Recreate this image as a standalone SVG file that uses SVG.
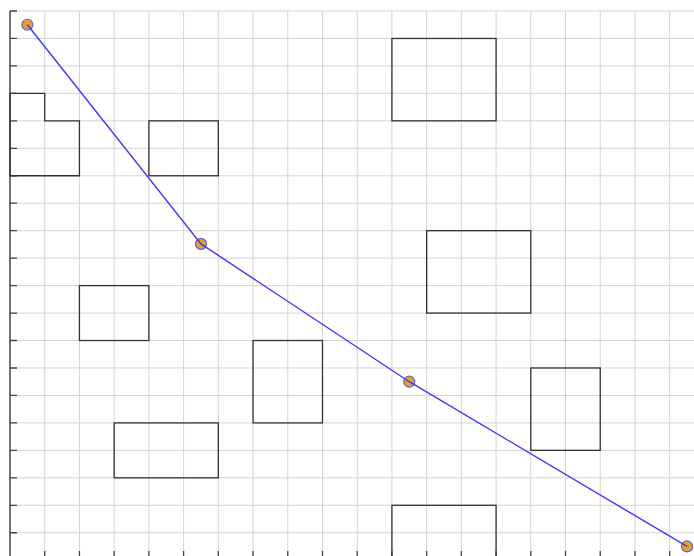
<svg xmlns="http://www.w3.org/2000/svg" width="694" height="556" viewBox="0 0 694 556">
<defs>
<style>
.grid line{stroke:#d4d4d4;stroke-width:1}
.axis{stroke:#444;stroke-width:1.5;fill:none}
.tick{stroke:#444;stroke-width:1.3}
.obs{fill:none;stroke:#333;stroke-width:1.3}
.route{fill:none;stroke:#3a3aff;stroke-width:1.4}
.pt{fill:#e8a21c;stroke:#5a5aff;stroke-width:1.2}
</style>
</defs>
<rect width="694" height="556" fill="#fff"/>
<g class="grid" id="grid">
<line x1="10" y1="11" x2="694" y2="11"/>
<line x1="10" y1="38.46" x2="694" y2="38.46"/>
<line x1="10" y1="65.92" x2="694" y2="65.92"/>
<line x1="10" y1="93.38" x2="694" y2="93.38"/>
<line x1="10" y1="120.84" x2="694" y2="120.84"/>
<line x1="10" y1="148.3" x2="694" y2="148.3"/>
<line x1="10" y1="175.76" x2="694" y2="175.76"/>
<line x1="10" y1="203.22" x2="694" y2="203.22"/>
<line x1="10" y1="230.68" x2="694" y2="230.68"/>
<line x1="10" y1="258.14" x2="694" y2="258.14"/>
<line x1="10" y1="285.6" x2="694" y2="285.6"/>
<line x1="10" y1="313.06" x2="694" y2="313.06"/>
<line x1="10" y1="340.52" x2="694" y2="340.52"/>
<line x1="10" y1="367.98" x2="694" y2="367.98"/>
<line x1="10" y1="395.44" x2="694" y2="395.44"/>
<line x1="10" y1="422.9" x2="694" y2="422.9"/>
<line x1="10" y1="450.36" x2="694" y2="450.36"/>
<line x1="10" y1="477.82" x2="694" y2="477.82"/>
<line x1="10" y1="505.28" x2="694" y2="505.28"/>
<line x1="10" y1="532.74" x2="694" y2="532.74"/>
<line x1="44.72" y1="11" x2="44.72" y2="556"/>
<line x1="79.44" y1="11" x2="79.44" y2="556"/>
<line x1="114.16" y1="11" x2="114.16" y2="556"/>
<line x1="148.88" y1="11" x2="148.88" y2="556"/>
<line x1="183.6" y1="11" x2="183.6" y2="556"/>
<line x1="218.32" y1="11" x2="218.32" y2="556"/>
<line x1="253.04" y1="11" x2="253.04" y2="556"/>
<line x1="287.76" y1="11" x2="287.76" y2="556"/>
<line x1="322.48" y1="11" x2="322.48" y2="556"/>
<line x1="357.2" y1="11" x2="357.2" y2="556"/>
<line x1="391.92" y1="11" x2="391.92" y2="556"/>
<line x1="426.64" y1="11" x2="426.64" y2="556"/>
<line x1="461.36" y1="11" x2="461.36" y2="556"/>
<line x1="496.08" y1="11" x2="496.08" y2="556"/>
<line x1="530.8" y1="11" x2="530.8" y2="556"/>
<line x1="565.52" y1="11" x2="565.52" y2="556"/>
<line x1="600.24" y1="11" x2="600.24" y2="556"/>
<line x1="634.96" y1="11" x2="634.96" y2="556"/>
<line x1="669.68" y1="11" x2="669.68" y2="556"/>
</g>
<g id="axes">
<line class="axis" x1="10" y1="11" x2="10" y2="556"/>
<path class="tick" d="M10 11h7M10 38.46h7M10 65.92h7M10 93.38h7M10 120.84h7M10 148.3h7M10 175.76h7M10 203.22h7M10 230.68h7M10 258.14h7M10 285.6h7M10 313.06h7M10 340.52h7M10 367.98h7M10 395.44h7M10 422.9h7M10 450.36h7M10 477.82h7M10 505.28h7M10 532.74h7"/>
<path class="tick" d="M44.72 551v5M79.44 551v5M114.16 551v5M148.88 551v5M183.6 551v5M218.32 551v5M253.04 551v5M287.76 551v5M322.48 551v5M357.2 551v5M391.92 551v5M426.64 551v5M461.36 551v5M496.08 551v5M530.8 551v5M565.52 551v5M600.24 551v5M634.96 551v5M669.68 551v5"/>
</g>
<g id="obstacles">
<path id="obs-l" class="obs" d="M10 93.38H44.72V120.84H79.44V175.76H10Z"/>
<rect id="obs-1" class="obs" x="148.88" y="120.84" width="69.44" height="54.92"/>
<rect id="obs-2" class="obs" x="391.92" y="38.46" width="104.16" height="82.38"/>
<rect id="obs-3" class="obs" x="426.64" y="230.68" width="104.16" height="82.38"/>
<rect id="obs-4" class="obs" x="79.44" y="285.6" width="69.44" height="54.92"/>
<rect id="obs-5" class="obs" x="253.04" y="340.52" width="69.44" height="82.38"/>
<rect id="obs-6" class="obs" x="530.8" y="367.98" width="69.44" height="82.38"/>
<rect id="obs-7" class="obs" x="114.16" y="422.9" width="104.16" height="54.92"/>
<rect id="obs-8" class="obs" x="391.92" y="505.28" width="104.16" height="60"/>
</g>
<g id="waypoints">
<circle id="wp1" class="pt" cx="27.36" cy="24.73" r="5.5"/>
<circle id="wp2" class="pt" cx="200.96" cy="243.9" r="5.5"/>
<circle id="wp3" class="pt" cx="409.28" cy="381.71" r="5.5"/>
<circle id="wp4" class="pt" cx="687.04" cy="546.47" r="5.5"/>
</g>
<g id="connectors">
<polyline class="route" points="27.36,24.73 200.96,243.9 409.28,381.71 687.04,546.47"/>
</g>
</svg>
